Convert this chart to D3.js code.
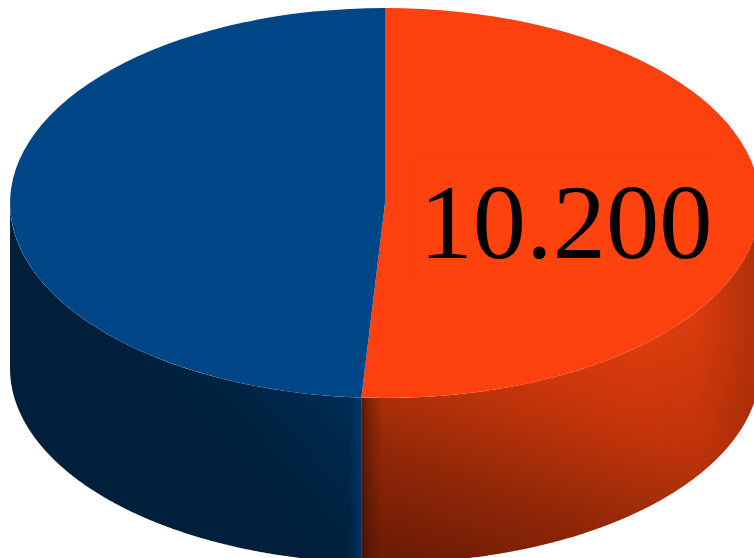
<!DOCTYPE html>
<html>

<head>
    <meta charset="utf-8">
    <title>pie 3d</title>
    <script src="https://d3js.org/d3.v7.min.js"></script>
    <style>
        html, body {
            margin: 0;
            padding: 0;
            background: #fff;
            overflow: hidden;
        }

        svg {
            display: block;
        }

        .label {
            font-family: "Liberation Serif", serif;
            font-size: 106.5px;
            fill: #000;
        }
    </style>
</head>

<body>
    <script>
        let categories = ["A", "B"];
        let values = [10200, 9800];
        let colors = ["#fc410e", "#004586"];
        let labels = [true, false];

        let width = 754;
        let height = 558;
        let cx = 385;
        let cy = 203;
        let rx = 375;
        let ry = 195;
        let depth = 165;

        let svg = d3.select("body").append("svg")
            .attr("width", width)
            .attr("height", height);

        let x_scale = d3.scaleLinear().domain([-1, 1]).range([cx - rx, cx + rx]);
        let y_scale = d3.scaleLinear().domain([-1, 1]).range([cy - ry, cy + ry]);

        let pie = d3.pie().sort(null).value(d => d);
        let slices = pie(values);

        // gradients for the side walls
        let defs = svg.append("defs");

        function gradient(id, x1, y1, x2, y2, stops) {
            let g = defs.append("linearGradient")
                .attr("id", id)
                .attr("gradientUnits", "userSpaceOnUse")
                .attr("x1", x1).attr("y1", y1)
                .attr("x2", x2).attr("y2", y2);
            g.selectAll("stop").data(stops).join("stop")
                .attr("offset", d => d[0])
                .attr("stop-color", d => d[1])
                .attr("stop-opacity", d => d[2] === undefined ? 1 : d[2]);
        }

        gradient("wall0", 400, 550, 502, 252, [
            [0, "#6f1c05"], [0.34, "#9a2a08"], [0.41, "#a62e08"], [0.64, "#ca360b"], [1, "#e33f0d"]
        ]);
        gradient("edge0", 361, 0, 382, 0, [
            [0, "#3d1204", 0.8], [0.4, "#3d1204", 0.35], [1, "#3d1204", 0]
        ]);
        gradient("edgeR", 640, 0, 754, 0, [
            [0, "#8a2506", 0], [0.5, "#8a2506", 0.12], [1, "#8a2506", 0.55]
        ]);
        gradient("wall1", 355, 400, 240, 500, [
            [0, "#002c55"], [0.5, "#002443"], [1, "#001f3b"]
        ]);
        gradient("edge1", 349, 0, 361, 0, [
            [0, "#003a70", 0], [1, "#003a70", 0.7]
        ]);

        let ang = a => a - Math.PI / 2;

        let wall = d3.area()
            .x(a => x_scale(Math.cos(ang(a))))
            .y0(a => y_scale(Math.sin(ang(a))))
            .y1(a => y_scale(Math.sin(ang(a))) + depth);

        // visible part of the wall is the front half of the ellipse
        let visible = d => d3.range(
            Math.max(d.startAngle, Math.PI / 2),
            Math.min(d.endAngle, Math.PI * 1.5),
            0.005
        ).concat([Math.min(d.endAngle, Math.PI * 1.5)]);

        let walls = svg.append("g");
        walls.append("path").attr("d", wall(visible(slices[1]))).attr("fill", "url(#wall1)");
        walls.append("path").attr("d", wall(visible(slices[1]))).attr("fill", "url(#edge1)");
        walls.append("path").attr("d", wall(visible(slices[0]))).attr("fill", "url(#wall0)");
        walls.append("path").attr("d", wall(visible(slices[0]))).attr("fill", "url(#edge0)");
        walls.append("path").attr("d", wall(visible(slices[0]))).attr("fill", "url(#edgeR)");

        // top of the pie: a unit circle squashed to an ellipse
        let arc = d3.arc().innerRadius(0).outerRadius(1);

        svg.append("g")
            .attr("transform", "translate(" + cx + "," + cy + ") scale(" + rx + "," + ry + ")")
            .selectAll("path")
            .data(slices)
            .join("path")
            .attr("d", arc)
            .attr("fill", (d, i) => colors[i]);

        // value label with its faint box
        let fmt = d3.formatLocale({ decimal: ",", thousands: ".", grouping: [3], currency: ["", ""] }).format(",d");

        let label = svg.append("g");
        label.append("rect")
            .attr("x", 415).attr("y", 159)
            .attr("width", 302).attr("height", 121)
            .attr("fill", "#fe430f");
        label.selectAll("text")
            .data(values.filter((d, i) => labels[i]))
            .join("text")
            .attr("class", "label")
            .attr("x", 566)
            .attr("y", 258)
            .attr("text-anchor", "middle")
            .text(d => fmt(d));
    </script>
</body>

</html>
